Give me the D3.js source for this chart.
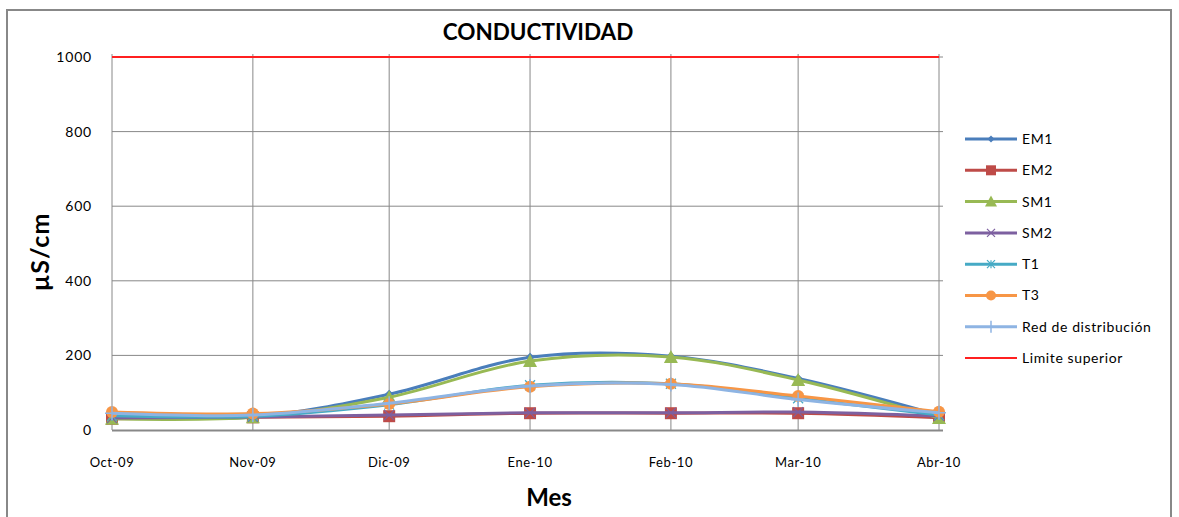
<!DOCTYPE html>
<html>
<head>
<meta charset="utf-8">
<script src="https://cdn.jsdelivr.net/npm/d3@7"></script>
<style>
  body { margin: 0; background: #fff; }
  svg { display: block; font-family: Lato, "Open Sans", sans-serif; }
</style>
</head>
<body>
<svg width="1179" height="517"></svg>
<script>
var months = ["2009-10-01", "2009-11-01", "2009-12-01", "2010-01-01", "2010-02-01", "2010-03-01", "2010-04-01"];
var monthLabels = ["Oct-09", "Nov-09", "Dic-09", "Ene-10", "Feb-10", "Mar-10", "Abr-10"];
var yTicks = [0, 200, 400, 600, 800, 1000];

var em1 = [36, 35, 96, 195, 198, 138, 40];
var em2 = [30, 34, 37, 45, 45, 45, 33];
var sm1 = [30, 34, 88, 185, 196, 134, 32];
var sm2 = [32, 35, 40, 46, 46, 48, 38];
var t1 = [38, 37, 68, 120, 124, 85, 40];
var t3 = [48, 44, 70, 116, 124, 91, 49];
var red = [45, 40, 72, 118, 122, 82, 46];
var limite = [1000, 1000, 1000, 1000, 1000, 1000, 1000];

var seriesNames = ["EM1", "EM2", "SM1", "SM2", "T1", "T3", "Red de distribución", "Limite superior"];
var seriesValues = [em1, em2, sm1, sm2, t1, t3, red, limite];
var colors = ["#4a7ebb", "#be4b48", "#98b954", "#7d60a0", "#46aac5", "#f79646", "#8eb4e3", "#ff2020"];
var markers = ["diamond", "square", "triangle", "x", "star", "circle", "plus", "none"];

var svg = d3.select("svg");
var parseTime = d3.timeParse("%Y-%m-%d");
var dates = months.map(parseTime);

var x = d3.scaleTime().domain(d3.extent(dates)).range([112, 939]);
var y = d3.scaleLinear().domain([0, 1000]).range([430, 57]);

// chart frame
svg.append("rect")
  .attr("x", 7).attr("y", 10).attr("width", 1164).attr("height", 530)
  .attr("fill", "none").attr("stroke", "#888").attr("stroke-width", 2);

// grid
svg.append("g").selectAll("line").data(yTicks.slice(1)).enter().append("line")
  .attr("x1", 112).attr("x2", 943)
  .attr("y1", function(d) { return y(d); }).attr("y2", function(d) { return y(d); })
  .attr("stroke", "#888").attr("stroke-width", 1);

svg.append("g").selectAll("line").data(dates).enter().append("line")
  .attr("x1", function(d) { return x(d); }).attr("x2", function(d) { return x(d); })
  .attr("y1", 54).attr("y2", 430)
  .attr("stroke", "#888").attr("stroke-width", 1);

svg.append("line")
  .attr("x1", 112).attr("x2", 943).attr("y1", 430.5).attr("y2", 430.5)
  .attr("stroke", "#888").attr("stroke-width", 2);

// y ticks
svg.append("g").selectAll("text").data(yTicks).enter().append("text")
  .attr("x", 92).attr("y", function(d) { return y(d); }).attr("dy", "0.35em")
  .attr("text-anchor", "end").attr("font-size", 14).attr("letter-spacing", 0.8).attr("fill", "#000")
  .text(function(d) { return d; });

// x ticks
svg.append("g").selectAll("text").data(dates).enter().append("text")
  .attr("x", function(d) { return x(d); }).attr("y", 467)
  .attr("text-anchor", "middle").attr("font-size", 13).attr("letter-spacing", 0.6).attr("fill", "#000")
  .text(function(d, i) { return monthLabels[i]; });

// titles
svg.append("text").attr("x", 538).attr("y", 40).attr("text-anchor", "middle")
  .attr("font-size", 22.5).attr("font-weight", "bold").text("CONDUCTIVIDAD");
svg.append("text").attr("x", 549).attr("y", 506).attr("text-anchor", "middle")
  .attr("font-size", 24).attr("font-weight", "bold").text("Mes");
svg.append("text").attr("transform", "translate(49,252) rotate(-90)").attr("text-anchor", "middle")
  .attr("font-size", 25).attr("letter-spacing", 1).attr("font-weight", "bold").text("µS/cm");

var line = d3.line()
  .curve(d3.curveCatmullRom.alpha(0.5))
  .x(function(d) { return x(d.date); })
  .y(function(d) { return y(d.value); });

function drawMarker(g, type, color, size) {
  var s = size;
  if (type === "diamond") {
    g.append("path").attr("d", "M0," + (-s) + "L" + s + ",0L0," + s + "L" + (-s) + ",0Z").attr("fill", color);
  } else if (type === "square") {
    g.append("rect").attr("x", -s).attr("y", -s).attr("width", 2 * s).attr("height", 2 * s).attr("fill", color);
  } else if (type === "triangle") {
    g.append("path").attr("d", "M0," + (-s - 1) + "L" + (s + 1) + "," + s + "L" + (-s - 1) + "," + s + "Z").attr("fill", color);
  } else if (type === "x") {
    g.append("path").attr("d", "M" + (-s) + "," + (-s) + "L" + s + "," + s + "M" + s + "," + (-s) + "L" + (-s) + "," + s)
      .attr("stroke", color).attr("stroke-width", 1.2).attr("fill", "none");
  } else if (type === "star") {
    g.append("path").attr("d", "M" + (-s) + "," + (-s) + "L" + s + "," + s + "M" + s + "," + (-s) + "L" + (-s) + "," + s + "M0," + (-s) + "L0," + s)
      .attr("stroke", color).attr("stroke-width", 1.2).attr("fill", "none");
  } else if (type === "circle") {
    g.append("circle").attr("r", s).attr("fill", color);
  } else if (type === "plus") {
    g.append("path").attr("d", "M" + (-s) + ",0L" + s + ",0M0," + (-s) + "L0," + s)
      .attr("stroke", color).attr("stroke-width", 1.5).attr("fill", "none");
  }
}

var markerSize = [4.5, 6, 6, 5, 5, 6, 7, 0];

seriesValues.forEach(function(vals, i) {
  var pts = vals.map(function(v, j) { return {date: dates[j], value: v}; });
  var g = svg.append("g");
  g.append("path").attr("d", line(pts)).attr("fill", "none")
    .attr("stroke", colors[i]).attr("stroke-width", i === 7 ? 2 : 3);
  if (markers[i] !== "none") {
    pts.forEach(function(p) {
      var m = g.append("g").attr("transform", "translate(" + x(p.date) + "," + y(p.value) + ")");
      drawMarker(m, markers[i], colors[i], markerSize[i]);
    });
  }
});

// legend
var legend = svg.append("g");
seriesNames.forEach(function(name, i) {
  var ly = 139 + i * 31.3;
  var row = legend.append("g").attr("transform", "translate(0," + ly + ")");
  row.append("line").attr("x1", 965).attr("x2", 1017).attr("y1", 0).attr("y2", 0)
    .attr("stroke", colors[i]).attr("stroke-width", i === 7 ? 2 : 3);
  if (markers[i] !== "none") {
    var m = row.append("g").attr("transform", "translate(991,0)");
    drawMarker(m, markers[i], colors[i], Math.max(3, markerSize[i] - 1));
  }
  row.append("text").attr("x", 1022).attr("y", 0).attr("dy", "0.35em")
    .attr("font-size", 14).attr("letter-spacing", 0.6).attr("fill", "#000").text(name);
});
</script>
</body>
</html>
